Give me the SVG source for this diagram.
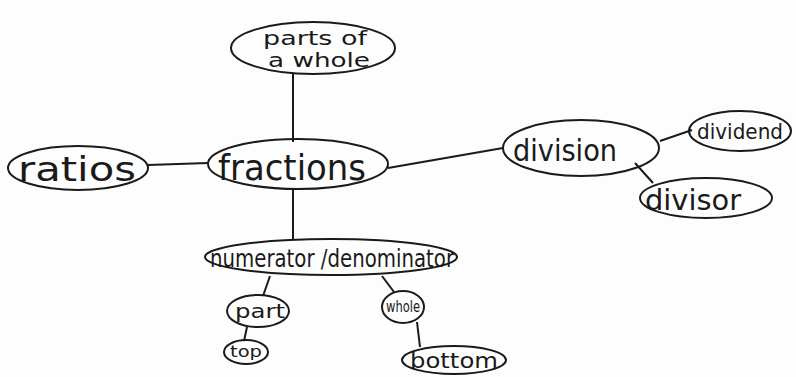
<svg xmlns="http://www.w3.org/2000/svg" width="796" height="377" viewBox="0 0 796 377">
<style>
.n{fill:none;stroke:#1a1a1a;stroke-width:2}
.c{fill:none;stroke:#1a1a1a;stroke-width:2}
text{font-family:"DejaVu Sans","Liberation Sans",sans-serif;fill:#1a1a1a;font-weight:normal}
</style>
<rect width="796" height="377" fill="#fdfdfd"/>
<g id="connectors">
<line class="c" x1="293" y1="74" x2="293" y2="142"/>
<line class="c" x1="148" y1="165" x2="208" y2="163"/>
<line class="c" x1="293" y1="188" x2="293" y2="240"/>
<line class="c" x1="388" y1="168" x2="503" y2="148"/>
<line class="c" x1="660" y1="141" x2="692" y2="130"/>
<line class="c" x1="635" y1="163" x2="653" y2="183"/>
<line class="c" x1="270" y1="276" x2="263" y2="296"/>
<line class="c" x1="382" y1="276" x2="394" y2="292"/>
<line class="c" x1="247" y1="327" x2="244" y2="341"/>
<line class="c" x1="417" y1="322" x2="420" y2="347"/>
</g>
<g id="parts-of-a-whole">
<ellipse class="n" cx="313" cy="48" rx="82" ry="26"/>
<text x="263" y="45" font-size="20" textLength="104" lengthAdjust="spacingAndGlyphs">parts of</text>
<text x="268" y="67" font-size="20" textLength="102" lengthAdjust="spacingAndGlyphs">a whole</text>
</g>
<g id="ratios">
<ellipse class="n" cx="78" cy="168" rx="70" ry="22"/>
<text x="18" y="181" font-size="34" textLength="118" lengthAdjust="spacingAndGlyphs">ratios</text>
</g>
<g id="fractions">
<ellipse class="n" cx="298" cy="164" rx="90" ry="25"/>
<text x="218" y="180" font-size="36" textLength="148" lengthAdjust="spacingAndGlyphs">fractions</text>
</g>
<g id="division">
<ellipse class="n" cx="581" cy="148" rx="78" ry="28"/>
<text x="513" y="161" font-size="30" textLength="104" lengthAdjust="spacingAndGlyphs">division</text>
</g>
<g id="dividend">
<ellipse class="n" cx="740" cy="131" rx="51" ry="20"/>
<text x="697" y="139" font-size="22" textLength="86" lengthAdjust="spacingAndGlyphs">dividend</text>
</g>
<g id="divisor">
<ellipse class="n" cx="706" cy="198" rx="66" ry="20"/>
<text x="645" y="210" font-size="28" textLength="96" lengthAdjust="spacingAndGlyphs">divisor</text>
</g>
<g id="numerator-denominator">
<ellipse class="n" cx="331" cy="257" rx="126" ry="18"/>
<text x="210" y="267" font-size="24" textLength="244" lengthAdjust="spacingAndGlyphs">numerator /denominator</text>
</g>
<g id="part">
<ellipse class="n" cx="258" cy="311" rx="31" ry="16"/>
<text x="235" y="318" font-size="20" textLength="50" lengthAdjust="spacingAndGlyphs">part</text>
</g>
<g id="whole">
<ellipse class="n" cx="403" cy="307" rx="21" ry="16"/>
<text x="386" y="312" font-size="15" textLength="34" lengthAdjust="spacingAndGlyphs">whole</text>
</g>
<g id="top">
<ellipse class="n" cx="246" cy="352" rx="22" ry="12"/>
<text x="230" y="357" font-size="15" textLength="32" lengthAdjust="spacingAndGlyphs">top</text>
</g>
<g id="bottom">
<ellipse class="n" cx="454" cy="360" rx="52" ry="14"/>
<text x="410" y="368" font-size="21" textLength="88" lengthAdjust="spacingAndGlyphs">bottom</text>
</g>
</svg>
